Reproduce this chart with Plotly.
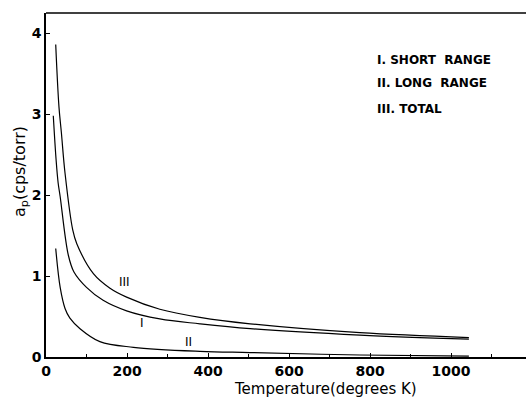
import plotly.graph_objects as go

# Curve I (short range)
t_short = [18, 25, 30, 35, 55, 69, 100, 141, 199, 281, 380, 504, 775, 1044]
v_short = [2.98, 2.43, 2.15, 1.98, 1.26, 1.05, 0.86, 0.70, 0.57, 0.47, 0.41, 0.35, 0.27, 0.22]
# Curve II (long range)
t_long = [24, 35, 47, 59, 84, 133, 216, 380, 504, 775, 1044]
v_long = [1.34, 0.86, 0.60, 0.48, 0.35, 0.19, 0.12, 0.07, 0.055, 0.025, 0.012]
# Curve III (total)
t_total = [24, 32, 38, 47, 66, 76, 117, 158, 199, 281, 380, 504, 775, 1044]
v_total = [3.86, 3.09, 2.77, 2.27, 1.57, 1.40, 1.03, 0.85, 0.74, 0.59, 0.49, 0.41, 0.30, 0.24]

x_ticks = [0, 200, 400, 600, 800, 1000]
y_ticks = [0, 1, 2, 3, 4]
legend_lines = ["I. SHORT  RANGE", "II. LONG  RANGE", "III. TOTAL"]
curve_labels = [("III", 195, 0.93), ("I", 236, 0.42), ("II", 353, 0.19)]

fig = go.Figure()
for t, v in [(t_short, v_short), (t_long, v_long), (t_total, v_total)]:
    fig.add_trace(go.Scatter(x=t, y=v, mode="lines",
                             line=dict(color="black", width=1.2, shape="spline", smoothing=1.0),
                             showlegend=False, hoverinfo="skip"))

tickfont = dict(family="DejaVu Sans", size=14, color="black", weight="bold")
fig.update_layout(
    width=526, height=398,
    margin=dict(l=46, r=0, t=13, b=41),
    paper_bgcolor="white", plot_bgcolor="white",
    xaxis=dict(range=[0, 1185], tickvals=x_ticks, ticks="inside", ticklen=4,
               tickcolor="black", showgrid=False, zeroline=False,
               showline=True, linecolor="black", linewidth=1.5,
               tickfont=tickfont,
               minor=dict(tickvals=[100, 300, 500, 700, 900, 1100], ticks="inside",
                          ticklen=3, tickcolor="black")),
    yaxis=dict(range=[0, 4.25], tickvals=y_ticks, ticks="inside", ticklen=4,
               tickcolor="black", showgrid=False, zeroline=False,
               showline=True, linecolor="black", linewidth=1.5,
               tickfont=tickfont),
)

fig.add_shape(type="line", xref="paper", yref="paper", x0=0, x1=1, y0=1, y1=1,
              line=dict(color="black", width=1.5))

fig.add_annotation(text="a<sub>p</sub>(cps/torr)", xref="paper", yref="paper",
                   x=(20 - 46) / 480, y=(357 - 172) / 344, textangle=-90, showarrow=False,
                   font=dict(family="DejaVu Sans", size=16, color="black"),
                   xanchor="center", yanchor="middle")
fig.add_annotation(text="Temperature(degrees K)", xref="paper", yref="paper",
                   x=(325 - 46) / 480, y=-32 / 344, showarrow=False,
                   font=dict(family="DejaVu Sans", size=15, color="black"),
                   xanchor="center", yanchor="middle")

for i, line in enumerate(legend_lines):
    fig.add_annotation(text=line, xref="paper", yref="paper",
                       x=(375 - 46) / 480, y=(357 - [60, 83, 109][i]) / 344,
                       showarrow=False, xanchor="left", yanchor="middle",
                       font=dict(family="DejaVu Sans", size=12, color="black", weight="bold"))

for txt, tx, vy in curve_labels:
    fig.add_annotation(text=txt, x=tx, y=vy, showarrow=False,
                       font=dict(family="DejaVu Sans", size=12, color="black"))

fig.write_html("out.html", config={"displayModeBar": False},
               post_script="document.body.style.margin='0';")
